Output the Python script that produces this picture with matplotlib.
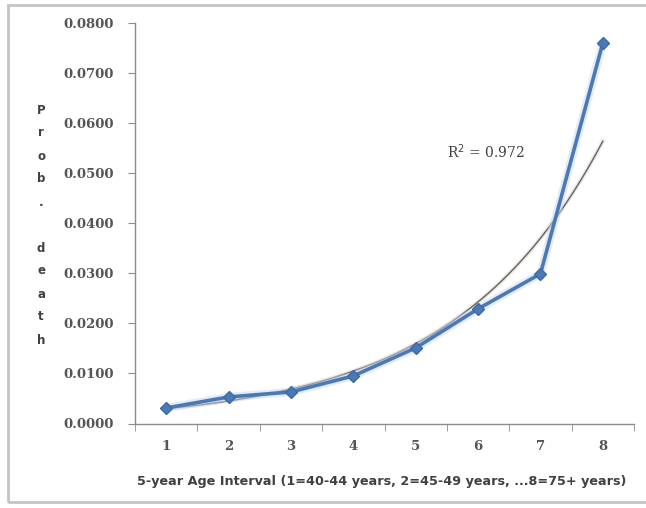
import numpy as np
import matplotlib
matplotlib.use("Agg")
import matplotlib.pyplot as plt
from matplotlib.patches import Rectangle
from matplotlib.ticker import FixedLocator, FuncFormatter

# Probability of death by 5-year age interval
age_interval = [1, 2, 3, 4, 5, 6, 7, 8]
prob_death = [0.0031, 0.0053, 0.0063, 0.0095, 0.0151, 0.0229, 0.0299, 0.0760]
r_squared_label = "R$^2$ = 0.972"
y_ticks = [0.0, 0.01, 0.02, 0.03, 0.04, 0.05, 0.06, 0.07, 0.08]
x_label = "5-year Age Interval (1=40-44 years, 2=45-49 years, ...8=75+ years)"
y_label = "Prob. death"

W, H = 646, 508
fig = plt.figure(figsize=(W / 100, H / 100), dpi=100)
fig.patch.set_facecolor("white")

# outer chart frame
fig.patches.append(Rectangle((7.5 / W, 1 - 502 / H), 1.05, (502 - 4.5) / H,
                             transform=fig.transFigure, fill=False,
                             edgecolor="#c4c4c4", linewidth=2.0))

ax = fig.add_axes([135 / W, 1 - 423.5 / H, (634 - 135) / W, (423.5 - 23) / H])
ax.set_facecolor("none")

x = np.array(age_interval, dtype=float)
y = np.array(prob_death)

# exponential trendline (least squares on log values)
b, a = np.polyfit(x, np.log(y), 1)
xs = np.linspace(x[0], x[-1], 200)
ax.plot(xs, np.exp(a + b * xs), color="#d9d9d9", lw=3.0, alpha=0.6, zorder=2)
ax.plot(xs, np.exp(a + b * xs), color="#6b6259", lw=1.0, zorder=3)

# data series
ax.plot(x, y, color="#c9daf0", lw=6, alpha=0.5, zorder=3.5, solid_capstyle="round")
ax.plot(x, y, color="#4a79b5", lw=2.6, marker="D", markersize=6,
        markerfacecolor="#4a79b5", markeredgecolor="#3b6aa6", zorder=4)

ax.text(5.5, 0.0542, r_squared_label, fontsize=10, family="DejaVu Serif",
        color="#404040", ha="left", va="center")

ax.set_xlim(0.5, 8.5)
ax.set_ylim(0, 0.08)
ax.xaxis.set_major_locator(FixedLocator(age_interval))
ax.xaxis.set_minor_locator(FixedLocator(np.arange(0.5, 9.0, 1.0)))
ax.yaxis.set_major_locator(FixedLocator(y_ticks))
ax.yaxis.set_major_formatter(FuncFormatter(lambda v, p: f"{v:.4f}"))

for s in ("top", "right"):
    ax.spines[s].set_visible(False)
for s in ("left", "bottom"):
    ax.spines[s].set_color("#8c8c8c")
    ax.spines[s].set_linewidth(1.0)

ax.tick_params(axis="x", which="major", length=0, pad=12, labelsize=9.5,
               labelcolor="#555555")
ax.tick_params(axis="x", which="minor", length=5, direction="out", color="#8c8c8c")
ax.tick_params(axis="y", which="major", length=5, direction="out", color="#8c8c8c",
               pad=10, labelsize=9.5, labelcolor="#555555")
for lbl in ax.get_xticklabels() + ax.get_yticklabels():
    lbl.set_family("DejaVu Serif")
    lbl.set_fontweight("bold")

fig.text(382 / W, 1 - 481 / H, x_label, ha="center", va="center",
         fontsize=9.2, fontweight="bold", color="#404040")

# vertical stacked y-axis title
for i, ch in enumerate(y_label):
    fig.text(41 / W, 1 - (110 + 23 * i) / H, ch, ha="center", va="center",
             fontsize=8.5, fontweight="bold", color="#404040")

fig.savefig("out.png", dpi=100, facecolor="white")
